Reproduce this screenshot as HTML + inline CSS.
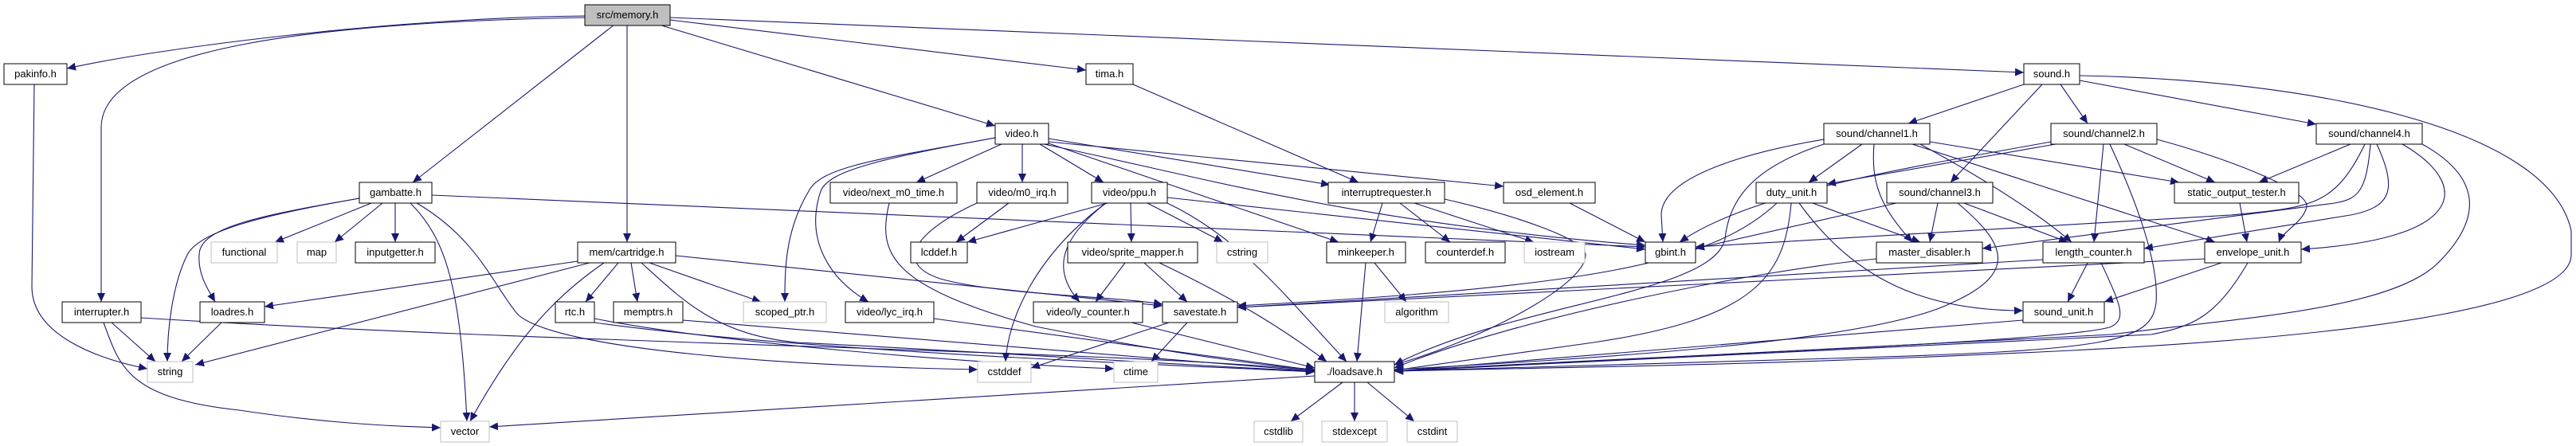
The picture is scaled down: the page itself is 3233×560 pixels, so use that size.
<!DOCTYPE html>
<html><head><meta charset="utf-8"><style>
html,body{margin:0;padding:0;background:#fff;}
svg{display:block;}
text{font-family:"Liberation Sans",Arial,sans-serif;font-size:13px;fill:#000;text-anchor:middle;}
.e{fill:none;stroke:#191970;stroke-width:1.1;marker-end:url(#a);}
.n{fill:#fff;stroke:#000;stroke-width:1;}
.g{fill:#fff;stroke:#bfbfbf;stroke-width:1;}
</style></head><body>
<svg width="3233" height="560" viewBox="0 0 3233 560" xmlns="http://www.w3.org/2000/svg">
<defs><marker id="a" markerUnits="userSpaceOnUse" markerWidth="12" markerHeight="10" refX="11" refY="5" orient="auto"><path d="M0,0 L11,5 L0,10 z" fill="#191970"/></marker></defs>
<g>
<path class="e" d="M734,20 C500,22 200,60 84,86"/>
<path class="e" d="M734,22 C400,28 127,60 127,160 L127,379"/>
<path class="e" d="M771,31 L518,229"/>
<path class="e" d="M787,31 L787,304"/>
<path class="e" d="M827,31 L1249,158"/>
<path class="e" d="M841,25 L1363,88"/>
<path class="e" d="M841,22 L2540,91"/>
<path class="e" d="M43,106 L40,360 C40,420 120,450 185,463"/>
<path class="e" d="M466,255 L345,304"/>
<path class="e" d="M480,255 L420,304"/>
<path class="e" d="M496,255 L496,304"/>
<path class="e" d="M451,249 C330,270 250,285 250,320 C248,345 262,365 270,379"/>
<path class="e" d="M451,249 C330,270 250,290 235,320 C215,360 210,420 210,454"/>
<path class="e" d="M515,255 C560,300 578,360 586,529"/>
<path class="e" d="M523,255 C600,300 620,360 650,395 C700,440 1000,460 1227,464"/>
<path class="e" d="M542,245 L2065,310"/>
<path class="e" d="M140,405 L195,454"/>
<path class="e" d="M130,405 C150,460 160,500 300,515 C400,530 480,535 553,537"/>
<path class="e" d="M177,399 C700,432 1400,440 1650,465"/>
<path class="e" d="M278,405 L228,454"/>
<path class="e" d="M725,328 L332,385"/>
<path class="e" d="M740,330 L245,458"/>
<path class="e" d="M758,330 C700,370 650,420 590,529"/>
<path class="e" d="M776,330 L735,379"/>
<path class="e" d="M792,330 L800,379"/>
<path class="e" d="M815,330 L955,379"/>
<path class="e" d="M848,321 L1459,384"/>
<path class="e" d="M805,330 C860,380 900,420 1000,430 C1300,445 1500,460 1650,466"/>
<path class="e" d="M746,400 C900,430 1200,455 1398,463"/>
<path class="e" d="M746,405 C1000,440 1400,455 1650,467"/>
<path class="e" d="M857,402 L1650,466"/>
<path class="e" d="M1172,400 L1650,465"/>
<path class="e" d="M1420,405 L1650,462"/>
<path class="e" d="M1467,405 L1294,462"/>
<path class="e" d="M1490,405 L1445,454"/>
<path class="e" d="M1249,173 C1100,200 1030,210 1015,240 C985,290 985,340 985,379"/>
<path class="e" d="M1249,173 C1100,200 1040,215 1030,240 C1010,300 1040,350 1090,379"/>
<path class="e" d="M1257,181 L1150,229"/>
<path class="e" d="M1283,181 L1283,229"/>
<path class="e" d="M1305,181 L1385,229"/>
<path class="e" d="M1316,174 L1669,232"/>
<path class="e" d="M1316,178 L1887,234"/>
<path class="e" d="M1316,180 L1680,304"/>
<path class="e" d="M1310,181 C1500,220 1700,280 2065,308"/>
<path class="e" d="M1422,106 L1705,229"/>
<path class="e" d="M1116,255 C1100,320 1120,360 1300,410 C1500,450 1600,460 1650,464"/>
<path class="e" d="M1266,255 L1200,304"/>
<path class="e" d="M1226,255 C1150,290 1120,330 1180,350 C1250,370 1400,372 1459,382"/>
<path class="e" d="M1390,255 L1214,304"/>
<path class="e" d="M1419,255 L1420,304"/>
<path class="e" d="M1440,255 L1535,304"/>
<path class="e" d="M1388,255 C1330,300 1320,340 1355,379"/>
<path class="e" d="M1388,255 C1300,320 1265,400 1262,454"/>
<path class="e" d="M1465,255 C1560,300 1620,380 1690,454"/>
<path class="e" d="M1465,248 L2065,313"/>
<path class="e" d="M1412,330 L1375,379"/>
<path class="e" d="M1436,330 L1490,379"/>
<path class="e" d="M1455,330 C1560,380 1620,420 1665,454"/>
<path class="e" d="M1735,255 L1720,304"/>
<path class="e" d="M1757,255 L1820,304"/>
<path class="e" d="M1775,255 L1925,304"/>
<path class="e" d="M1813,250 C1900,270 1990,300 1990,320 C1990,360 1850,430 1750,458"/>
<path class="e" d="M1725,330 L1765,379"/>
<path class="e" d="M1714,330 L1703,454"/>
<path class="e" d="M1970,255 L2065,304"/>
<path class="e" d="M1685,480 L1620,529"/>
<path class="e" d="M1700,480 L1700,529"/>
<path class="e" d="M1716,480 L1775,529"/>
<path class="e" d="M1650,472 L614,536"/>
<path class="e" d="M2540,106 L2395,155"/>
<path class="e" d="M2586,106 L2620,155"/>
<path class="e" d="M2563,106 L2448,229"/>
<path class="e" d="M2610,101 L2907,156"/>
<path class="e" d="M2610,95 C2900,100 3200,160 3227,290 L3227,320 C3227,380 3000,420 2600,440 C2200,460 1900,462 1750,466"/>
<path class="e" d="M2289,175 C2200,190 2085,220 2085,270 L2087,304"/>
<path class="e" d="M2289,181 C2200,210 2170,250 2165,300 C2150,370 1900,380 1750,458"/>
<path class="e" d="M2337,181 L2270,229"/>
<path class="e" d="M2352,181 C2348,230 2360,260 2400,304"/>
<path class="e" d="M2410,181 C2500,230 2560,270 2600,304"/>
<path class="e" d="M2400,181 L2780,304"/>
<path class="e" d="M2422,178 L2735,229"/>
<path class="e" d="M2574,178 C2400,210 2200,240 2108,304"/>
<path class="e" d="M2580,181 L2293,231"/>
<path class="e" d="M2666,181 L2780,229"/>
<path class="e" d="M2640,181 L2628,304"/>
<path class="e" d="M2707,175 C2800,200 2900,240 2895,260 C2890,280 2865,290 2860,304"/>
<path class="e" d="M2648,181 C2680,250 2710,330 2706,380 C2700,430 2650,440 2300,450 L1750,466"/>
<path class="e" d="M2432,255 L2422,304"/>
<path class="e" d="M2465,255 L2595,304"/>
<path class="e" d="M2457,255 C2510,300 2540,340 2450,380 C2350,430 2000,450 1750,464"/>
<path class="e" d="M2380,255 L2128,312"/>
<path class="e" d="M2275,255 L2410,304"/>
<path class="e" d="M2230,255 C2150,330 2000,360 1553,384"/>
<path class="e" d="M2248,255 C2240,350 2200,400 2000,430 L1750,465"/>
<path class="e" d="M2258,255 C2320,340 2400,390 2539,390"/>
<path class="e" d="M2811,255 L2820,304"/>
<path class="e" d="M2950,181 L2835,229"/>
<path class="e" d="M2968,181 C2930,260 2900,260 2800,270 L2128,310"/>
<path class="e" d="M2975,181 C2970,240 2960,250 2930,255 L2488,312"/>
<path class="e" d="M2983,181 C3010,240 3000,260 2950,270 L2691,312"/>
<path class="e" d="M3015,181 C3100,230 3100,300 2888,313"/>
<path class="e" d="M3040,181 C3110,220 3120,270 3060,330 C3000,390 2800,400 2650,420 L1750,466"/>
<path class="e" d="M2564,326 L1553,386"/>
<path class="e" d="M2767,325 L1553,386"/>
<path class="e" d="M2620,330 L2595,379"/>
<path class="e" d="M2637,330 C2660,380 2670,400 2650,410 C2600,430 2000,450 1750,466"/>
<path class="e" d="M2788,330 L2641,379"/>
<path class="e" d="M2821,330 C2780,400 2750,410 2700,420 L1750,466"/>
<path class="e" d="M2539,402 L1750,466"/>
<path class="e" d="M2355,325 C2200,340 1900,400 1750,462"/>
</g>
<g>
<rect x="734" y="6" width="107" height="26" fill="#bfbfbf" stroke="#000"/><text x="787.5" y="23">src/memory.h</text>
<rect class="n" x="5" y="80" width="79" height="26"/><text x="44.5" y="97">pakinfo.h</text>
<rect class="n" x="1363" y="80" width="59" height="26"/><text x="1392.5" y="97">tima.h</text>
<rect class="n" x="2540" y="80" width="70" height="26"/><text x="2575" y="97">sound.h</text>
<rect class="n" x="1249" y="155" width="67" height="26"/><text x="1282.5" y="172">video.h</text>
<rect class="n" x="2289" y="155" width="133" height="26"/><text x="2355.5" y="172">sound/channel1.h</text>
<rect class="n" x="2574" y="155" width="133" height="26"/><text x="2640.5" y="172">sound/channel2.h</text>
<rect class="n" x="2907" y="155" width="133" height="26"/><text x="2973.5" y="172">sound/channel4.h</text>
<rect class="n" x="451" y="229" width="91" height="26"/><text x="496.5" y="246">gambatte.h</text>
<rect class="n" x="1042" y="229" width="159" height="26"/><text x="1121.5" y="246">video/next_m0_time.h</text>
<rect class="n" x="1226" y="229" width="114" height="26"/><text x="1283" y="246">video/m0_irq.h</text>
<rect class="n" x="1370" y="229" width="95" height="26"/><text x="1417.5" y="246">video/ppu.h</text>
<rect class="n" x="1667" y="229" width="146" height="26"/><text x="1740" y="246">interruptrequester.h</text>
<rect class="n" x="1887" y="229" width="115" height="26"/><text x="1944.5" y="246">osd_element.h</text>
<rect class="n" x="2204" y="229" width="89" height="26"/><text x="2248.5" y="246">duty_unit.h</text>
<rect class="n" x="2368" y="229" width="133" height="26"/><text x="2434.5" y="246">sound/channel3.h</text>
<rect class="n" x="2729" y="229" width="156" height="26"/><text x="2807" y="246">static_output_tester.h</text>
<rect class="g" x="265" y="304" width="83" height="26"/><text x="306.5" y="321">functional</text>
<rect class="g" x="373" y="304" width="49" height="26"/><text x="397.5" y="321">map</text>
<rect class="n" x="446" y="304" width="100" height="26"/><text x="496" y="321">inputgetter.h</text>
<rect class="n" x="725" y="304" width="123" height="26"/><text x="786.5" y="321">mem/cartridge.h</text>
<rect class="n" x="1143" y="304" width="71" height="26"/><text x="1178.5" y="321">lcddef.h</text>
<rect class="n" x="1340" y="304" width="163" height="26"/><text x="1421.5" y="321">video/sprite_mapper.h</text>
<rect class="g" x="1527" y="304" width="64" height="26"/><text x="1559" y="321">cstring</text>
<rect class="n" x="1665" y="304" width="99" height="26"/><text x="1714.5" y="321">minkeeper.h</text>
<rect class="n" x="1789" y="304" width="100" height="26"/><text x="1839" y="321">counterdef.h</text>
<rect class="g" x="1913" y="304" width="76" height="26"/><text x="1951" y="321">iostream</text>
<rect class="n" x="2065" y="304" width="63" height="26"/><text x="2096.5" y="321">gbint.h</text>
<rect class="n" x="2355" y="304" width="133" height="26"/><text x="2421.5" y="321">master_disabler.h</text>
<rect class="n" x="2564" y="304" width="127" height="26"/><text x="2627.5" y="321">length_counter.h</text>
<rect class="n" x="2767" y="304" width="121" height="26"/><text x="2827.5" y="321">envelope_unit.h</text>
<rect class="n" x="78" y="379" width="99" height="26"/><text x="127.5" y="396">interrupter.h</text>
<rect class="n" x="251" y="379" width="81" height="26"/><text x="291.5" y="396">loadres.h</text>
<rect class="n" x="697" y="379" width="49" height="26"/><text x="721.5" y="396">rtc.h</text>
<rect class="n" x="770" y="379" width="87" height="26"/><text x="813.5" y="396">memptrs.h</text>
<rect class="g" x="933" y="379" width="104" height="26"/><text x="985" y="396">scoped_ptr.h</text>
<rect class="n" x="1061" y="379" width="111" height="26"/><text x="1116.5" y="396">video/lyc_irq.h</text>
<rect class="n" x="1297" y="379" width="137" height="26"/><text x="1365.5" y="396">video/ly_counter.h</text>
<rect class="n" x="1459" y="379" width="94" height="26"/><text x="1506" y="396">savestate.h</text>
<rect class="g" x="1738" y="379" width="80" height="26"/><text x="1778" y="396">algorithm</text>
<rect class="n" x="2539" y="379" width="102" height="26"/><text x="2590" y="396">sound_unit.h</text>
<rect class="g" x="185" y="454" width="57" height="26"/><text x="213.5" y="471">string</text>
<rect class="g" x="1227" y="454" width="67" height="26"/><text x="1260.5" y="471">cstddef</text>
<rect class="g" x="1398" y="454" width="55" height="26"/><text x="1425.5" y="471">ctime</text>
<rect class="n" x="1650" y="454" width="100" height="26"/><text x="1700" y="471">./loadsave.h</text>
<rect class="g" x="553" y="529" width="61" height="26"/><text x="583.5" y="546">vector</text>
<rect class="g" x="1574" y="529" width="61" height="26"/><text x="1604.5" y="546">cstdlib</text>
<rect class="g" x="1659" y="529" width="82" height="26"/><text x="1700" y="546">stdexcept</text>
<rect class="g" x="1766" y="529" width="63" height="26"/><text x="1797.5" y="546">cstdint</text>
</g>
</svg>
</body></html>
